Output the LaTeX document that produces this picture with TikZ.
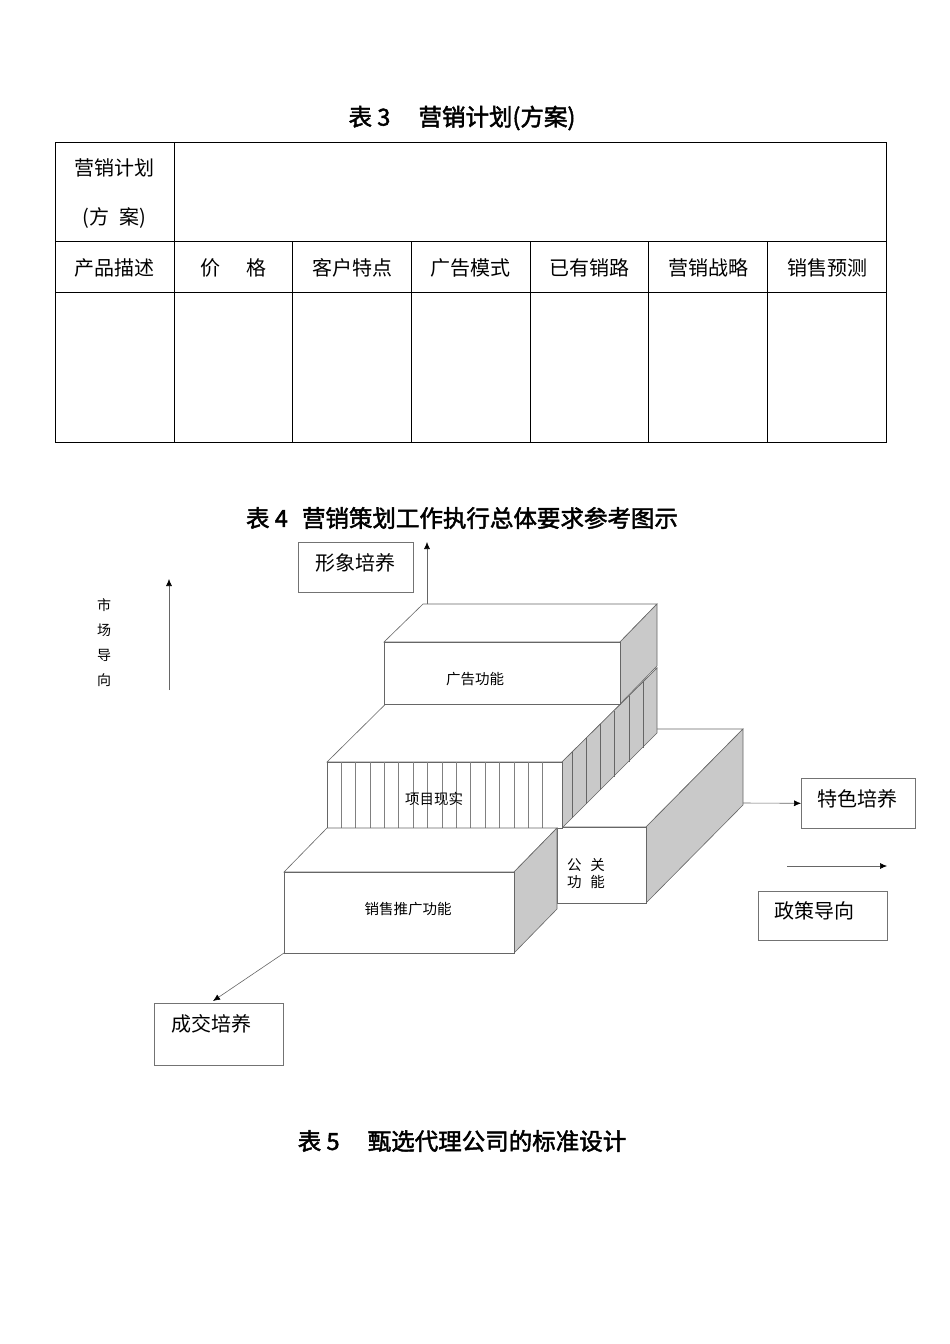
\documentclass[tikz,border=0pt]{standalone}
\usetikzlibrary{arrows.meta}
\usepackage{fontspec}
\setmainfont{Liberation Serif}
\newfontfamily\cjk{Noto Sans CJK SC}[AutoFakeBold=2]
\begin{document}
\begin{tikzpicture}[x=1pt,y=-1pt,
  tl/.style={font=\cjk\fontsize{20}{22}\selectfont,inner sep=0pt},
  sl/.style={font=\cjk\fontsize{14.5}{17}\selectfont,inner sep=0pt},
  ttl/.style={font=\cjk\bfseries\fontsize{23.5}{26}\selectfont,inner sep=0pt},
  lbox/.style={draw=black!55,line width=0.6pt,inner sep=0pt,anchor=north west},
  face/.style={draw=black!60,line width=0.6pt,fill=white},
  side/.style={draw=black!60,line width=0.6pt,fill=black!21},
  arr/.style={draw=black!60,line width=0.6pt,-{Latex[length=7pt,width=6pt,color=black]}}]
\useasboundingbox (0,0) rectangle (950,1344);
% Table 3
\node[ttl] (t3) at (462,118) {表 3\hspace{1.2em}营销计划(方案)};
\draw[line width=0.7pt] (55,142) rectangle (886,442);
\draw[line width=0.7pt] (55,241) -- (886,241) (55,292) -- (886,292) (174,142) -- (174,442);
\foreach \x in {292,411,530,648,767} \draw[line width=0.7pt] (\x,241) -- (\x,442);
\node[tl] (a1) at (114,168) {营销计划};
\node[tl] (a2) at (114,218) {(方\hspace{0.5em}案)};
\foreach \t/\x [count=\i] in {产品描述/114,{价\hspace{1.3em}格}/233,客户特点/352,广告模式/470,已有销路/589,营销战略/708,销售预测/827}
  \node[tl] (h\i) at (\x,268) {\t};
% Table 4 title
\node[ttl] (t4) at (462,518) {表 4\hspace{0.6em}营销策划工作执行总体要求参考图示};
% boxes: 公关
\draw[face] (557,827) -- (654,729) -- (743,729) -- (646,827) -- cycle;
\draw[side] (646,827) -- (743,729) -- (743,805) -- (646,903) -- cycle;
\draw[face] (557,827) rectangle (646,903);
% middle
\draw[face] (327,762) -- (422,668) -- (657,668) -- (562,762) -- cycle;
\draw[side] (562,762) -- (657,668) -- (657,733) -- (562,828) -- cycle;
\foreach \x in {572,586,600,614,629,643} \draw[black!60,line width=0.5pt] (\x,{762-(\x-562)*0.99}) -- (\x,{min(828,762-(\x-562)*0.99+66)});
\draw[face] (327,762) rectangle (562,828);
\foreach \i in {0,...,14} \draw[black!50,line width=0.5pt] ({341+\i*14.4},762) -- ({341+\i*14.4},828);
% top
\draw[face] (384,642) -- (423,604) -- (657,604) -- (620,642) -- cycle;
\draw[side] (620,642) -- (657,604) -- (657,666) -- (620,704) -- cycle;
\draw[face] (384,642) rectangle (620,704);
% bottom
\draw[face] (284,872) -- (327,828) -- (557,828) -- (514,872) -- cycle;
\draw[side] (514,872) -- (557,828) -- (557,909) -- (514,953) -- cycle;
\draw[face] (284,872) rectangle (514,953);
\node[sl] (ad) at (475,679) {广告功能};
\node[sl] (pr) at (434,799) {项目现实};
\node[sl] (sa) at (408,909) {销售推广功能};
\node[sl,align=center] (pu) at (586,874) {公\hspace{0.6em}关\\功\hspace{0.6em}能};
% labels and arrows
\node[lbox,minimum width=115pt,minimum height=50pt] (xx) at (298,542) {};
\node[tl] (xxt) at (355,563) {形象培养};
\coordinate (up0) at (427,604); \coordinate (up1) at (427,542);
\draw[arr] (up0) -- (up1);
\node[sl,align=center,font=\cjk\fontsize{14}{25}\selectfont] (sc) at (104,643) {市\\场\\导\\向};
\coordinate (m0) at (169,690); \coordinate (m1) at (169,579);
\draw[arr] (m0) -- (m1);
\node[lbox,minimum width=114pt,minimum height=50pt] (ts) at (801,778) {};
\node[tl] (tst) at (857,799) {特色培养};
\coordinate (r0) at (743,803);
\draw[arr] (r0) -- (ts.west);
\coordinate (p0) at (787,866); \coordinate (p1) at (887,866);
\draw[arr] (p0) -- (p1);
\node[lbox,minimum width=129pt,minimum height=49pt] (zc) at (758,891) {};
\node[tl] (zct) at (814,911) {政策导向};
\node[lbox,minimum width=129pt,minimum height=62pt] (cj) at (154,1003) {};
\node[tl] (cjt) at (211,1024) {成交培养};
\coordinate (b0) at (284,953); \coordinate (b1) at (213,1001);
\draw[arr] (b0) -- (b1);
\node[ttl] (t5) at (462,1141) {表 5\hspace{1.2em}甄选代理公司的标准设计};
\end{tikzpicture}
\end{document}
